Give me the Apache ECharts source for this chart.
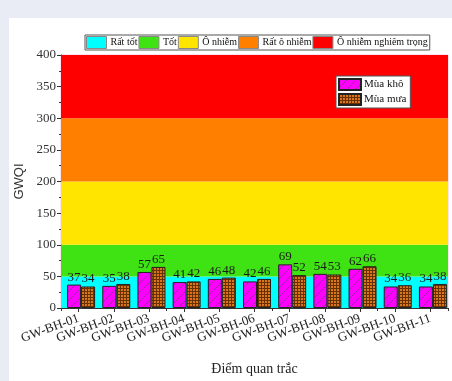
<!DOCTYPE html>
<html>
<head>
<meta charset="utf-8">
<script src="https://cdn.jsdelivr.net/npm/echarts@6/dist/echarts.min.js"></script>
<style>
  html, body { margin: 0; padding: 0; background: #e9ecf5; width: 452px; height: 381px; overflow: hidden; }
  #card { position: absolute; left: 9px; top: 18px; right: 0; bottom: 0; background: #ffffff; }
  #chart { position: absolute; left: 0; top: 0; width: 452px; height: 381px; }
</style>
</head>
<body>
<div id="card"></div>
<div id="chart"></div>
<script>
// Monitoring wells
const categories = ['GW-BH-01','GW-BH-02','GW-BH-03','GW-BH-04','GW-BH-05','GW-BH-06','GW-BH-07','GW-BH-08','GW-BH-09','GW-BH-10','GW-BH-11'];
// GWQI by season
const dryValues = [37, 35, 57, 41, 46, 42, 69, 54, 62, 34, 34];
const wetValues = [34, 38, 65, 42, 48, 46, 52, 53, 66, 36, 38];
const seasonNames = ['Mùa khô', 'Mùa mưa'];
// Quality classes (GWQI ranges)
const zoneNames = ['Rất tốt', 'Tốt', 'Ô nhiễm', 'Rất ô nhiễm', 'Ô nhiễm nghiêm trọng'];
const zoneBounds = [[0, 50], [50, 100], [100, 200], [200, 300], [300, 400]];
const zoneColors = ['#00ffff', '#3fe314', '#ffe500', '#ff8000', '#ff0000'];
const yTicks = [0, 50, 100, 150, 200, 250, 300, 350, 400];

const serif = '"Liberation Serif", "Times New Roman", serif';

function makePattern(size, draw) {
  const c = document.createElement('canvas');
  c.width = size; c.height = size;
  draw(c.getContext('2d'), size);
  return { image: c, repeat: 'repeat' };
}
// Magenta with sparse diagonal hatching
const hatch = makePattern(9, (g, s) => {
  g.fillStyle = '#ff00ff'; g.fillRect(0, 0, s, s);
  g.strokeStyle = '#8a2a8a'; g.lineWidth = 0.8;
  g.beginPath();
  g.moveTo(0, s); g.lineTo(s, 0);
  g.moveTo(-1, 1); g.lineTo(1, -1);
  g.moveTo(s - 1, s + 1); g.lineTo(s + 1, s - 1);
  g.stroke();
});
// Brown with a fine dark grid
const grid = makePattern(3, (g, s) => {
  g.fillStyle = '#d9771f'; g.fillRect(0, 0, s, s);
  g.fillStyle = '#6b3000';
  g.fillRect(0, 0, s, 1);
  g.fillRect(0, 0, 1, s);
});

const zoneSeries = zoneNames.map((name, i) => ({
  name: name,
  type: 'bar',
  data: [],
  itemStyle: { color: zoneColors[i] },
  silent: true,
  markArea: {
    silent: true,
    itemStyle: { color: zoneColors[i], opacity: 1 },
    data: [[{ yAxis: zoneBounds[i][0] }, { yAxis: zoneBounds[i][1] }]]
  }
}));

const labelStyle = {
  show: true, position: 'top', distance: 1,
  fontFamily: serif, fontSize: 13, color: '#1a1a1a'
};

const chart = echarts.init(document.getElementById('chart'), null, { renderer: 'canvas' });
chart.setOption({
  backgroundColor: 'transparent',
  animation: false,
  grid: { left: 61, right: 4, top: 55, bottom: 70, show: true, borderColor: '#f3c6d8', borderWidth: 1, backgroundColor: 'transparent' },
  legend: [
    {
      data: zoneNames,
      left: 85, top: 35, width: 400,
      itemWidth: 20, itemHeight: 12, itemGap: 1,
      padding: [1, 2, 1, 1],
      borderColor: '#555', borderWidth: 1,
      backgroundColor: '#fff',
      icon: 'rect',
      selectedMode: false,
      textStyle: { fontFamily: serif, fontSize: 10, color: '#111', padding: [0, 0, 0, -1] },
      itemStyle: { borderColor: '#888', borderWidth: 1 }
    },
    {
      data: seasonNames,
      left: 336, top: 76,
      orient: 'vertical',
      itemWidth: 22, itemHeight: 11, itemGap: 2,
      padding: [2, 4, 2, 2],
      borderColor: '#555', borderWidth: 1,
      backgroundColor: '#fff',
      icon: 'rect',
      selectedMode: false,
      textStyle: { fontFamily: serif, fontSize: 11, color: '#111', padding: [0, 0, 0, -2] }
    }
  ],
  xAxis: [
    {
      type: 'category',
      data: categories,
      name: 'Điểm quan trắc',
      nameLocation: 'middle',
      nameGap: 54,
      nameTextStyle: { fontFamily: serif, fontSize: 14, color: '#222' },
      axisLine: { lineStyle: { color: '#333', width: 1 } },
      axisTick: { show: true, alignWithLabel: true, length: 4, lineStyle: { color: '#333' } },
      axisLabel: { rotate: 20, fontFamily: serif, fontSize: 13, color: '#222', margin: 10, interval: 0 }
    },
    {
      // boundary ticks between wells
      type: 'category',
      data: categories,
      position: 'bottom',
      axisLine: { show: false },
      axisTick: { show: true, alignWithLabel: false, length: 3, lineStyle: { color: '#333' } },
      axisLabel: { show: false }
    }
  ],
  yAxis: {
    type: 'value',
    min: yTicks[0], max: yTicks[yTicks.length - 1], interval: 50,
    name: 'GWQI',
    nameLocation: 'middle',
    nameGap: 31,
    nameTextStyle: { fontFamily: '"Liberation Sans", Arial, sans-serif', fontSize: 13, color: '#333' },
    axisLine: { show: true, lineStyle: { color: '#333', width: 1 } },
    axisTick: { show: true, length: 4, lineStyle: { color: '#333' } },
    minorTick: { show: true, splitNumber: 2, length: 2, lineStyle: { color: '#333' } },
    splitLine: { show: false },
    axisLabel: { fontFamily: serif, fontSize: 13, color: '#333', margin: 5 }
  },
  series: zoneSeries.concat([
    {
      name: seasonNames[0], type: 'bar', data: dryValues,
      barWidth: 14, barGap: '0%', z: 3,
      itemStyle: { color: hatch, borderColor: '#222', borderWidth: 1 },
      label: labelStyle
    },
    {
      name: seasonNames[1], type: 'bar', data: wetValues,
      barWidth: 14, barGap: '0%', z: 3,
      itemStyle: { color: grid, borderColor: '#222', borderWidth: 1 },
      label: labelStyle
    }
  ])
});
</script>
</body>
</html>
